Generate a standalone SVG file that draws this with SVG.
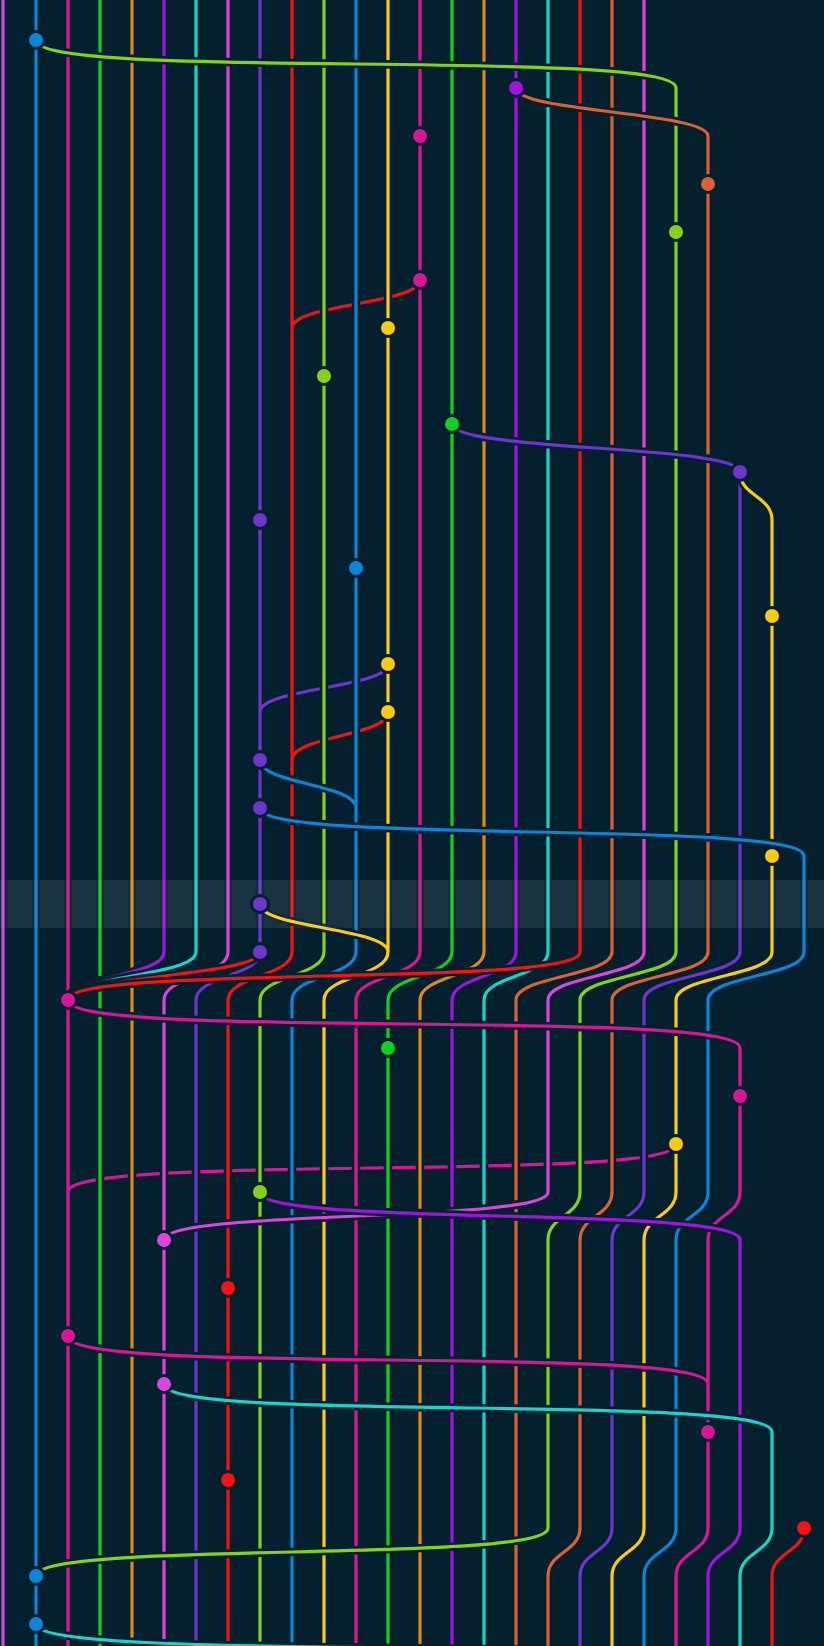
<svg xmlns="http://www.w3.org/2000/svg" xmlns:xlink="http://www.w3.org/1999/xlink" width="824" height="1646" viewBox="0 0 824 1646">
<style>
.o{fill:none;stroke:#04202f;stroke-width:8.5}
.l{fill:none;stroke-width:3.2}
.c circle{stroke:#04202f;stroke-width:3}
.band{fill:#ffffff}
</style>
<defs>
<path id="p0" d="M3,0V1646"/>
<path id="p1" d="M36,0V1646"/>
<path id="p2" d="M68,0V1646M676,1144C676,1183.7 68,1152.3 68,1192"/>
<path id="p3" d="M100,0V1646"/>
<path id="p4" d="M132,0V1646"/>
<path id="p5" d="M164,0V952C164,976 68,976 68,1000"/>
<path id="p6" d="M196,0V952C196,976 68,976 68,1000"/>
<path id="p7" d="M228,0V952C228,976 164,976 164,1000V1646"/>
<path id="p8" d="M260,0V952C260,976 196,976 196,1000V1646M388,664C388,688 260,688 260,712"/>
<path id="p9" d="M292,0V952C292,976 228,976 228,1000V1646M420,280C420,304 292,304 292,328M388,712C388,736 292,736 292,760M260,952C260,976 68,976 68,1000"/>
<path id="p10" d="M324,0V952C324,976 260,976 260,1000V1646"/>
<path id="p11" d="M356,0V952C356,976 292,976 292,1000V1646M260,760C260,784 356,784 356,808"/>
<path id="p12" d="M388,0V952C388,976 324,976 324,1000V1646M260,904C260,928 388,928 388,952"/>
<path id="p13" d="M420,0V952C420,976 356,976 356,1000V1646"/>
<path id="p14" d="M452,0V952C452,976 388,976 388,1000V1646"/>
<path id="p15" d="M484,0V952C484,976 420,976 420,1000V1646"/>
<path id="p16" d="M516,0V952C516,976 452,976 452,1000V1646"/>
<path id="p17" d="M548,0V952C548,976 484,976 484,1000V1646"/>
<path id="p18" d="M580,0V952C580,988 68,964 68,1000"/>
<path id="p19" d="M612,0V952C612,976 516,976 516,1000V1646"/>
<path id="p20" d="M644,0V952C644,976 548,976 548,1000V1192C548,1223 164,1209 164,1240"/>
<path id="p21" d="M36,40C36,81 676,47 676,88V952C676,976 580,976 580,1000V1192C580,1216 548,1216 548,1240V1528C548,1564 36,1540 36,1576"/>
<path id="p22" d="M516,88C516,112 708,112 708,136V952C708,976 612,976 612,1000V1192C612,1216 580,1216 580,1240V1528C580,1552 548,1552 548,1576V1646"/>
<path id="p23" d="M452,424C452,451.4 740,444.6 740,472V952C740,976 644,976 644,1000V1192C644,1216 612,1216 612,1240V1528C612,1552 580,1552 580,1576V1646"/>
<path id="p24" d="M740,472C740,496 772,496 772,520V952C772,976 676,976 676,1000V1192C676,1216 644,1216 644,1240V1528C644,1552 612,1552 612,1576V1646"/>
<path id="p25" d="M260,808C260,845.2 804,818.8 804,856V952C804,976 708,976 708,1000V1192C708,1216 676,1216 676,1240V1528C676,1552 644,1552 644,1576V1646"/>
<path id="p26" d="M68,1000C68,1041 740,1007 740,1048V1192C740,1216 708,1216 708,1240V1528C708,1552 676,1552 676,1576V1646M68,1336C68,1377 708,1343 708,1384"/>
<path id="p27" d="M260,1192C260,1226.8 740,1205.2 740,1240V1528C740,1552 708,1552 708,1576V1646"/>
<path id="p28" d="M164,1384C164,1423.7 772,1392.3 772,1432V1528C772,1552 740,1552 740,1576V1646M36,1624C36,1664 772,1632 772,1672"/>
<path id="p29" d="M804,1528C804,1552 772,1552 772,1576V1646"/>
</defs>
<rect width="824" height="1646" fill="#04202f"/>
<rect id="highlight" class="band" x="0" y="880" width="824" height="48" fill-opacity="0.04"/>
<g id="connectors">
<use xlink:href="#p0" class="o"/><use xlink:href="#p0" class="l" stroke="#dd44dd"/>
<use xlink:href="#p1" class="o"/><use xlink:href="#p1" class="l" stroke="#0a85d9"/>
<use xlink:href="#p2" class="o"/><use xlink:href="#p2" class="l" stroke="#dc1597"/>
<use xlink:href="#p3" class="o"/><use xlink:href="#p3" class="l" stroke="#12d01c"/>
<use xlink:href="#p4" class="o"/><use xlink:href="#p4" class="l" stroke="#de8b0f"/>
<use xlink:href="#p5" class="o"/><use xlink:href="#p5" class="l" stroke="#a312de"/>
<use xlink:href="#p6" class="o"/><use xlink:href="#p6" class="l" stroke="#14d6cb"/>
<use xlink:href="#p7" class="o"/><use xlink:href="#p7" class="l" stroke="#dd44dd"/>
<use xlink:href="#p8" class="o"/><use xlink:href="#p8" class="l" stroke="#7034d0"/>
<use xlink:href="#p9" class="o"/><use xlink:href="#p9" class="l" stroke="#fb1010"/>
<use xlink:href="#p10" class="o"/><use xlink:href="#p10" class="l" stroke="#85d313"/>
<use xlink:href="#p11" class="o"/><use xlink:href="#p11" class="l" stroke="#0a85d9"/>
<use xlink:href="#p12" class="o"/><use xlink:href="#p12" class="l" stroke="#fcca12"/>
<use xlink:href="#p13" class="o"/><use xlink:href="#p13" class="l" stroke="#dc1597"/>
<use xlink:href="#p14" class="o"/><use xlink:href="#p14" class="l" stroke="#12d01c"/>
<use xlink:href="#p15" class="o"/><use xlink:href="#p15" class="l" stroke="#de8b0f"/>
<use xlink:href="#p16" class="o"/><use xlink:href="#p16" class="l" stroke="#a312de"/>
<use xlink:href="#p17" class="o"/><use xlink:href="#p17" class="l" stroke="#14d6cb"/>
<use xlink:href="#p18" class="o"/><use xlink:href="#p18" class="l" stroke="#fb1010"/>
<use xlink:href="#p19" class="o"/><use xlink:href="#p19" class="l" stroke="#dc6232"/>
<use xlink:href="#p20" class="o"/><use xlink:href="#p20" class="l" stroke="#dd44dd"/>
<use xlink:href="#p21" class="o"/><use xlink:href="#p21" class="l" stroke="#85d313"/>
<use xlink:href="#p22" class="o"/><use xlink:href="#p22" class="l" stroke="#dc6232"/>
<use xlink:href="#p23" class="o"/><use xlink:href="#p23" class="l" stroke="#7034d0"/>
<use xlink:href="#p24" class="o"/><use xlink:href="#p24" class="l" stroke="#fcca12"/>
<use xlink:href="#p25" class="o"/><use xlink:href="#p25" class="l" stroke="#0a85d9"/>
<use xlink:href="#p26" class="o"/><use xlink:href="#p26" class="l" stroke="#dc1597"/>
<use xlink:href="#p27" class="o"/><use xlink:href="#p27" class="l" stroke="#a312de"/>
<use xlink:href="#p28" class="o"/><use xlink:href="#p28" class="l" stroke="#14d6cb"/>
<use xlink:href="#p29" class="o"/><use xlink:href="#p29" class="l" stroke="#fb1010"/>
</g>
<rect id="highlight-over" class="band" x="0" y="880" width="824" height="48" fill-opacity="0.055"/>
<g id="commits" class="c">
<g id="commit-00"><circle cx="36" cy="40" r="8.5" fill="#0a85d9"/></g>
<g id="commit-01"><circle cx="516" cy="88" r="8.5" fill="#a312de"/></g>
<g id="commit-02"><circle cx="420" cy="136" r="8.5" fill="#dc1597"/></g>
<g id="commit-03"><circle cx="708" cy="184" r="8.5" fill="#dc6232"/></g>
<g id="commit-04"><circle cx="676" cy="232" r="8.5" fill="#85d313"/></g>
<g id="commit-05"><circle cx="420" cy="280" r="8.5" fill="#dc1597"/></g>
<g id="commit-06"><circle cx="388" cy="328" r="8.5" fill="#fcca12"/></g>
<g id="commit-07"><circle cx="324" cy="376" r="8.5" fill="#85d313"/></g>
<g id="commit-08"><circle cx="452" cy="424" r="8.5" fill="#12d01c"/></g>
<g id="commit-09"><circle cx="740" cy="472" r="8.5" fill="#7034d0"/></g>
<g id="commit-10"><circle cx="260" cy="520" r="8.5" fill="#7034d0"/></g>
<g id="commit-11"><circle cx="356" cy="568" r="8.5" fill="#0a85d9"/></g>
<g id="commit-12"><circle cx="772" cy="616" r="8.5" fill="#fcca12"/></g>
<g id="commit-13"><circle cx="388" cy="664" r="8.5" fill="#fcca12"/></g>
<g id="commit-14"><circle cx="388" cy="712" r="8.5" fill="#fcca12"/></g>
<g id="commit-15"><circle cx="260" cy="760" r="8.5" fill="#7034d0"/></g>
<g id="commit-16"><circle cx="260" cy="808" r="8.5" fill="#7034d0"/></g>
<g id="commit-17"><circle cx="772" cy="856" r="8.5" fill="#fcca12"/></g>
<g id="commit-18"><circle cx="260" cy="904" r="8.5" fill="#7034d0"/></g>
<g id="commit-19"><circle cx="260" cy="952" r="8.5" fill="#7034d0"/></g>
<g id="commit-20"><circle cx="68" cy="1000" r="8.5" fill="#dc1597"/></g>
<g id="commit-21"><circle cx="388" cy="1048" r="8.5" fill="#12d01c"/></g>
<g id="commit-22"><circle cx="740" cy="1096" r="8.5" fill="#dc1597"/></g>
<g id="commit-23"><circle cx="676" cy="1144" r="8.5" fill="#fcca12"/></g>
<g id="commit-24"><circle cx="260" cy="1192" r="8.5" fill="#85d313"/></g>
<g id="commit-25"><circle cx="164" cy="1240" r="8.5" fill="#dd44dd"/></g>
<g id="commit-26"><circle cx="228" cy="1288" r="8.5" fill="#fb1010"/></g>
<g id="commit-27"><circle cx="68" cy="1336" r="8.5" fill="#dc1597"/></g>
<g id="commit-28"><circle cx="164" cy="1384" r="8.5" fill="#dd44dd"/></g>
<g id="commit-29"><circle cx="708" cy="1432" r="8.5" fill="#dc1597"/></g>
<g id="commit-30"><circle cx="228" cy="1480" r="8.5" fill="#fb1010"/></g>
<g id="commit-31"><circle cx="804" cy="1528" r="8.5" fill="#fb1010"/></g>
<g id="commit-32"><circle cx="36" cy="1576" r="8.5" fill="#0a85d9"/></g>
<g id="commit-33"><circle cx="36" cy="1624" r="8.5" fill="#0a85d9"/></g>
</g>
</svg>
